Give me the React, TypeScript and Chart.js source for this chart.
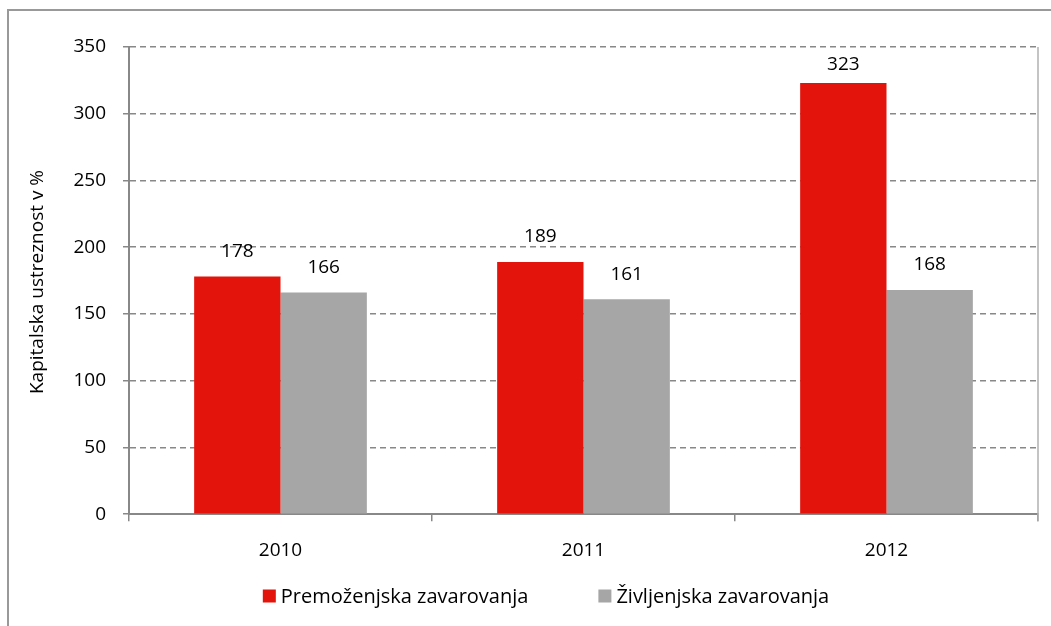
import React, { useEffect, useRef } from "react";
import { Chart, registerables } from "chart.js";

Chart.register(...registerables);

const categories = ["2010", "2011", "2012"];
const seriesNames = ["Premoženjska zavarovanja", "Življenjska zavarovanja"];
const premozenjska = [178, 189, 323];
const zivljenjska = [166, 161, 168];
const yTitle = "Kapitalska ustreznost v %";
const colors = ["#E3140C", "#A6A6A6"];

const FONT = "'Open Sans', 'DejaVu Sans', sans-serif";
const FS = 19;
const LEGEND_FS = 20;

const valueLabels = {
  id: "valueLabels",
  afterDatasetsDraw(chart: any) {
    const ctx = chart.ctx;
    ctx.save();
    ctx.font = `${FS}px ${FONT}`;
    ctx.fillStyle = "#000";
    ctx.textAlign = "center";
    ctx.textBaseline = "middle";
    chart.data.datasets.forEach((ds: any, i: number) => {
      const meta = chart.getDatasetMeta(i);
      meta.data.forEach((bar: any, j: number) => {
        const y = Math.max(bar.y - 25, chart.chartArea.top + 18);
        ctx.fillText(String(ds.data[j]), bar.x, y);
      });
    });
    ctx.restore();
  },
};

const frame = {
  id: "frame",
  afterDraw(chart: any) {
    const { ctx, chartArea } = chart;
    ctx.save();
    ctx.strokeStyle = "#b0b0b0";
    ctx.lineWidth = 1.5;
    ctx.beginPath();
    ctx.moveTo(chartArea.right, chartArea.top);
    ctx.lineTo(chartArea.right, chartArea.bottom + 7);
    ctx.stroke();
    ctx.strokeStyle = "#999";
    ctx.lineWidth = 2;
    ctx.strokeRect(8, 10, 1100, 700);

    // custom legend
    ctx.font = `${LEGEND_FS}px ${FONT}`;
    ctx.textBaseline = "middle";
    ctx.textAlign = "left";
    const box = 13;
    const gapText = 5;
    const gapItems = 70;
    const widths = chart.data.datasets.map((d: any) => ctx.measureText(d.label).width);
    const total = widths.reduce((a: number, w: number) => a + box + gapText + w, 0) + gapItems;
    let x = 546 - total / 2;
    const y = 596;
    chart.data.datasets.forEach((d: any, i: number) => {
      ctx.fillStyle = d.backgroundColor;
      ctx.fillRect(x, y - box / 2, box, box);
      ctx.fillStyle = "#000";
      ctx.fillText(d.label, x + box + gapText, y + 1);
      x += box + gapText + widths[i] + gapItems;
    });

    // y axis title
    ctx.fillStyle = "#000";
    ctx.font = `${FS}px ${FONT}`;
    ctx.textAlign = "center";
    ctx.textBaseline = "middle";
    ctx.translate(38, 282);
    ctx.rotate(-Math.PI / 2);
    ctx.fillText(yTitle, 0, 0);
    ctx.restore();
  },
};

export default function App() {
  const ref = useRef<HTMLCanvasElement | null>(null);
  useEffect(() => {
    if (!ref.current) return;
    const chart = new Chart(ref.current, {
      type: "bar",
      data: {
        labels: categories,
        datasets: [
          {
            label: seriesNames[0],
            data: premozenjska,
            backgroundColor: colors[0],
            categoryPercentage: 0.57,
            barPercentage: 1,
          },
          {
            label: seriesNames[1],
            data: zivljenjska,
            backgroundColor: colors[1],
            categoryPercentage: 0.57,
            barPercentage: 1,
          },
        ],
      },
      options: {
        animation: false,
        responsive: false,
        layout: { padding: { left: 64, right: 13, top: 47, bottom: 46 } },
        plugins: {
          legend: { display: false },
          tooltip: { enabled: false },
        },
        scales: {
          x: {
            grid: {
              offset: true,
              drawOnChartArea: false,
              drawTicks: true,
              tickLength: 7,
              color: "#888",
              lineWidth: 1.5,
            },
            border: { color: "#888", width: 2 },
            ticks: { color: "#000", font: { size: FS, family: FONT }, padding: 18 },
          },
          y: {
            min: 0,
            max: 350,
            afterFit(scale: any) {
              scale.width = 65;
            },
            ticks: {
              stepSize: 50,
              color: "#000",
              font: { size: FS, family: FONT },
              padding: 17,
            },
            grid: {
              color: "#888",
              lineWidth: 1.5,
              tickLength: 6,
              tickBorderDash: [6, 4],
            },
            border: { color: "#888", width: 2, dash: [6, 4] } as any,
          },
        },
      },
      plugins: [valueLabels, frame],
    });
    return () => chart.destroy();
  }, []);
  return (
    <div style={{ position: "fixed", left: 0, top: 0, width: 1051, height: 626, background: "#fff" }}>
      <canvas ref={ref} width={1051} height={626} />
    </div>
  );
}
